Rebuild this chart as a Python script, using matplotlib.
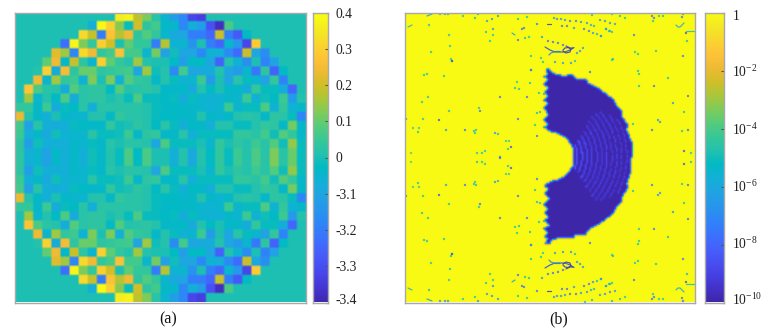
import numpy as np
import matplotlib
matplotlib.use("Agg")
import matplotlib.pyplot as plt
from matplotlib.colors import LinearSegmentedColormap, Normalize
from matplotlib.path import Path
from matplotlib.transforms import ScaledTranslation

plt.rcParams['font.family'] = ['Liberation Serif', 'DejaVu Serif']
plt.rcParams['mathtext.fontset'] = 'custom'
plt.rcParams['mathtext.rm'] = 'Liberation Serif'

# ---------- panel (a): upper half of the cell matrix, in tenths of the colour axis
upper_rows = [
 [0]*11+[3.6,3.7,1.8,1.2,0.2,-0.5,-1.2,-1.8,-3.2,-3.4]+[0]*11,
 [0]*8+[-0.7,4,3,1.3,-0.2,2,0.3,0.6,-0.4,-0.4,-1.8,-0.7,-1.2,-3,-3.8,0.7]+[0]*8,
 [0]*7+[3.2,1.9,-2,2.7,1.7,2.4,0.3,0.8,0.4,-0.5,-0.9,-1,-2,-2,-2.5,1.9,-2,-2.8,-0.3]+[0]*6,
 [0]*5+[-2.3,3.8,1.2,0.4,3,2,0,0.9,0.4,0.4,-2,1.7,-0.6,-0.5,-1.5,0,-2,-2.5,-0.5,-1.4,-3.2,2.9]+[0]*5,
 [0]*4+[2.2,1.5,-1.8,3.2,2.4,0.4,0.6,2.7,0.6,0.6,-0.5,1.1,-1.1,-0.1,-1,-1,-1.8,-0.6,-0.7,-1.7,-2.4,1.9,-1,-1.6]+[0]*4,
 [0]*3+[0.9,2.4,-0.4,1.9,0.3,-0.5,3,0.9,0.4,0.1,1.5,0.1,0,0,-0.3,-1.2,-0.3,-0.3,-1,-2.6,0.1,-0.6,-1.6,0,-1.9,-1.1]+[0]*3,
 [0]*2+[0.1,3,-0.8,2.5,0.3,1,1,0.3,0.4,0.5,0.6,-1,1.5,-0.1,0.1,-1.7,0.6,-1,-0.9,-0.8,0.1,-1,-1.3,-0.5,-2.1,0.3,-2.6,-0.3]+[0]*2,
 [0]*2+[2.4,-0.5,1.5,0.4,0.5,-0.6,1.2,0,1.2,-0.7,0.8,0.4,0.3,-0.4,0.1,-0.2,-0.6,-0.5,0.5,-1.3,0,-1,0.2,-0.2,-0.5,-1.1,0.4,-1.9]+[0]*2,
 [0,2.8,0.7,0.2,0.1,-0.8,0.8,0.2,0.3,0.3,-0.3,0.8,0.1,0.2,0.3,0.1,-0.4,-0.4,-0.3,-0.9,0.1,-0.3,0,-0.4,-0.4,-0.8,0.4,-0.2,-0.2,-0.8,-2.5,0],
 [0,1.5,-0.5,0.1,-0.3,0.7,-0.8,0.2,0.3,0.3,0,0.2,-0.2,0.7,-0.2,-0.2,-0.3,-0.2,-0.8,-0.2,-0.5,-0.6,-0.6,-0.4,-0.5,0.5,-0.6,-0.1,-0.3,0.5,-1.3,0.1],
 [.4,.4,-.4,.5,-.8,-.2,-.3,.2,-.7,.2,.2,.2,.2,.2,.1,-.2,-.4,-.3,-.4,-.4,-.5,-.6,-.5,.5,-.5,-.2,-.2,.7,-.6,.4,-.6,-.4],
 [2.3,.1,-.4,-.7,0,-.4,-.5,-.5,.1,.1,-.4,.4,.2,.2,.1,-.2,-.3,-.3,-.4,-.4,.1,-.4,-.5,-.4,.1,.2,.1,-.4,.3,.2,-.2,-1.8],
 [.6,-1.1,.2,-.7,-.8,-.7,-.2,-.3,-.4,-.4,.4,-.1,0,.3,.1,-.3,.2,-.2,-.7,-.3,-.4,-.7,.1,.1,-.2,-.2,.1,.4,.3,-.4,1.1,-.4],
 [.5,-.7,-.4,-.9,-.1,-.6,-.5,-.5,.2,-.2,-.2,-.1,.5,-.4,.3,.4,-.4,-.4,.2,-.7,-.2,-.2,-.2,-.2,.4,.4,.2,.6,-.1,.8,.4,-.4],
 [.3,-1.2,-.1,-.7,-.7,-.7,-.4,-.5,-.2,-.4,.2,0,.2,.2,.1,-1.0,.7,-.2,-.2,-.2,0,-.5,.4,0,.3,.1,.5,.2,.8,-.1,1.4,-.2],
 [.3,-.7,-.5,-1.1,-.4,-.7,-.4,-.7,-.1,-.4,.1,-.2,.7,-.3,.7,0,0,-.7,.1,-.9,.1,-.3,.4,-.2,.5,.1,.7,.2,1.2,.2,1,-.2],
]
ticks_a = [0.4, 0.3, 0.2, 0.1, 0, -0.1, -0.2, -0.3, -0.4]
labels_a = ['0.4', '0.3', '0.2', '0.1', '0', '-3.1', '-3.2', '-3.3', '-3.4']

# ---------- panel (b): upper half of the dark region, in reference pixels
outline_x = [545,550,553,563,574,577,587,590,600,615,617,624,623,630,628,633,633,
             574,573,568,560,550,544,549,544,549,544,549,544,549,544,549,544,549,544,549,544,549]
outline_y = [70,69,73,76,75,79,79,84,89,100,105,112,116,127,130,143,158.5,
             158.5,148,140,135,132,128,125,120,115,109,104,101,96,93,88,85,80,77,74,71,73]
ripple_r = [30,35,40,45,50,55,60,65,70,75,80]
ripple_span = [24,28,32,34,38,40,42,42,40,34,28]
ripple_level = [-8.0,-8.3,-8.5,-8.8,-8.8,-9.0,-8.8,-9.0,-8.8,-9.0,-8.8]
speck_x = [424,427,444,452,422,428,449,479,480,500,527,517,515,519,530,531,539,544,406,423,439,413,419,418,446,465,476,474,475,518,537,540,535,537,495,498,506,509,511,508,485,482,477,500,411,
 620,625,652,654,653,659,663,683,682,606,609,612,601,634,686,687,656,683,635,638,613,612,638,639,668,639,654,688,673,684,658,660,652,633,682,688,684,691,
 440,445,448,463,475,478,487,492,498,518,527,429,537,554,557,561,565,570,576,581,587,591,594,600,605,610,615,585,592,612,584,589,593,597,601,606,610,562,567,574,522,524,486,493,493,449,525,529,518,490,450,431,451,452,531,531,590,
 542,548,553,558,563,541,543,555,563,571,575,577,580,583]
speck_y = [75,74,76,61,102,97,111,108,111,97,97,82,88,89,83,70,93,94,119,119,120,128,128,132,130,130,130,131,133,119,113,112,125,136,133,134,141,141,147,149,151,153,153,157,153,
 16,18,16,18,21,16,16,14,17,29,31,32,36,35,33,41,51,56,52,54,59,60,71,74,78,86,86,96,103,112,120,122,130,124,131,130,151,153,
 14,14,14,16,18,14,21,19,16,19,17,25,24,18,19,19,20,21,21,22,23,25,26,20,21,23,24,13,15,14,29,31,33,34,36,29,31,26,26,28,29,28,32,29,35,35,38,37,40,41,46,52,59,61,56,70,72,
 37,41,42,43,45,58,62,62,63,63,61,53,51,48]
speck_level = [-5,-5,-5,-5,-5,-5,-5,-5,-8,-8,-8,-5,-5,-5,-5,-5,-5,-5,-8,-5,-9,-4.5,-4.5,-5,-7,-8,-5,-5,-5,-8,-6,-5,-5,-8,-7,-6,-4.5,-4.5,-9,-5,-5,-5,-5,-8,-4,
 -5,-5,-8,-8,-5,-5,-5,-8,-8,-8,-5,-5,-8,-8,-9,-6,-5,-8,-5,-5,-5,-5,-5,-5,-5,-5,-8,-8,-7,-5,-7,-7,-8,-5,-5,-8,-9,-5,
 -7,-7,-7,-5,-5,-7,-7,-7,-7,-5,-5,-5,-8,-7,-7,-7,-7,-8,-8,-7,-7,-6,-6,-7,-7,-7,-7,-6,-6,-6,-8,-8,-7,-6,-6,-6,-6,-8,-8,-7,-8,-8,-5,-7,-5,-5,-5,-5,-8,-5,-5,-5,-5,-9,-5,-8,-8,
 -7,-8,-8,-8,-8,-5,-5,-7,-7,-7,-5,-7,-7,-7]
# curve fragments near the border and around the two knots (upper half)
curve_x = [[427,432],[408,412],[547,551],[686,695],[676,678,680,684],[512,515],
           [545,550,555,560,565,570,574],[549,551,555,560],[563,565,568,571,570,566,563],[566,570,573]]
curve_y = [[16,14],[27,25],[24,24],[31,31],[25,27,27,23],[33,35],
           [47,50,52,52,52,50,47.5],[55,53,51.5,51.5],[50,48,47.5,49,52,53,51],[46,48,48]]
curve_colour = ['#1f9fd8','#22b8b0','#3d3fb0','#22b8c8','#22a8d8','#1fa0d8',
                '#2a50e0','#2a80e0','#3a3ac0','#3a3ac0']
ticks_b = [0, -2, -4, -6, -8, -10]
labels_b = ['1', r'$\mathregular{10^{-2}}$', r'$\mathregular{10^{-4}}$', r'$\mathregular{10^{-6}}$',
            r'$\mathregular{10^{-8}}$', r'$\mathregular{10^{-10}}$']
captions = ['(a)', '(b)']

# ---------- colour map
anchors = [(0.2422,0.1504,0.6603),(0.2647,0.1978,0.7952),(0.2783,0.2559,0.8991),(0.2810,0.3228,0.9579),
 (0.2699,0.3892,0.9906),(0.2206,0.4603,0.9973),(0.1786,0.5289,0.9682),(0.1540,0.5902,0.9218),
 (0.1248,0.6459,0.8883),(0.0689,0.6948,0.8394),(0.0067,0.7312,0.7660),(0.1408,0.7584,0.6842),
 (0.2161,0.7843,0.5923),(0.3406,0.8008,0.4789),(0.5044,0.7993,0.3480),(0.6720,0.7793,0.2227),
 (0.8203,0.7498,0.1535),(0.9393,0.7288,0.2100),(0.9970,0.7659,0.2199),(0.9786,0.8394,0.1778),
 (0.9597,0.9135,0.1423),(0.9769,0.9839,0.0805)]
parula = LinearSegmentedColormap.from_list('parula_like', anchors, N=256)

W, H = 770, 331
fig = plt.figure(figsize=(W/100, H/100), dpi=100)
def px_axes(x0, y0, x1, y1):
    return fig.add_axes([x0/W, 1-y1/H, (x1-x0)/W, (y1-y0)/H])
FRAME = '#a8a8a8'

def style_frame(ax):
    for s in ax.spines.values():
        s.set_color(FRAME)
        s.set_linewidth(1.0)

def nudge(label, dy_px):
    label.set_transform(label.get_transform() + ScaledTranslation(0, -dy_px/100, fig.dpi_scale_trans))

# ---------- panel (a)
ax_a = px_axes(14.5, 12.5, 305.5, 302.5)
matrix = np.array(upper_rows + upper_rows[::-1], dtype=float) / 10.0
norm_a = Normalize(-0.41, 0.39)
ax_a.imshow(np.kron(matrix, np.ones((4, 4))), cmap=parula, norm=norm_a, aspect='auto',
            interpolation='bilinear', interpolation_stage='rgba')
ax_a.set_xticks([]); ax_a.set_yticks([])
style_frame(ax_a)

cax_a = px_axes(313, 12.5, 328, 302.5)
grad = np.linspace(0.4, -0.4, 256)[:, None]
cax_a.imshow(grad, cmap=parula, norm=norm_a, aspect='auto', extent=[0, 1, -0.4, 0.4])
cax_a.set_xticks([])
cax_a.yaxis.tick_right()
cax_a.set_yticks(ticks_a, labels_a)
cax_a.tick_params(axis='y', direction='in', length=2, width=0.8, color='#555533',
                  labelsize=9.8, pad=5.5, labelcolor='#222222')
style_frame(cax_a)

# ---------- panel (b)
xlim = (405, 695); ylim = (302.5, 12.5)
step = 1.5
gx = np.arange(xlim[0], xlim[1] + step, step)
gy = np.arange(ylim[1], ylim[0] + step, step)
XX, YY = np.meshgrid(gx, gy)
MID = 157.5
ox = np.array(outline_x, float); oy = np.array(outline_y, float)
pts = np.column_stack([XX.ravel(), YY.ravel()])
upper = Path(np.column_stack([ox, oy])).contains_points(pts)
lower = Path(np.column_stack([ox, 2*MID - oy])).contains_points(pts)
inside = (upper | lower).reshape(XX.shape)
field = np.zeros_like(XX)
field[inside] = -10.0
cx = 548.0
for r, span, lev in zip(ripple_r, ripple_span, ripple_level):
    for a in np.arange(-span, span + 1, 1.5):
        xp = cx + r*np.cos(np.radians(a)); yp = MID + r*np.sin(np.radians(a))
        i = int(round((yp - gy[0])/step)); j = int(round((xp - gx[0])/step))
        if inside[i, j]:
            field[i, j] = lev
# slight softening of the region edge, as in the blurred reference
kernel = np.array([1, 6, 1])/8
field = np.apply_along_axis(lambda v: np.convolve(v, kernel, mode='same'), 0, field)
field = np.apply_along_axis(lambda v: np.convolve(v, kernel, mode='same'), 1, field)
field[0, :] = field[1, :]; field[-1, :] = field[-2, :]
field[:, 0] = field[:, 1]; field[:, -1] = field[:, -2]

ax_b = px_axes(405, 12.5, 695, 302.5)
norm_b = Normalize(-10, 0)
ax_b.imshow(field, cmap=parula, norm=norm_b, aspect='auto', interpolation='bilinear',
            interpolation_stage='data', extent=[xlim[0], xlim[1], ylim[0], ylim[1]])
sx = np.array(speck_x, float); sy = np.array(speck_y, float); sl = np.array(speck_level, float)
ax_b.scatter(np.r_[sx, sx], np.r_[sy, 2*MID - sy], c=np.r_[sl, sl], cmap=parula, norm=norm_b,
             s=3.0, linewidths=0, alpha=0.75)
for cxs, cys, col in zip(curve_x, curve_y, curve_colour):
    ax_b.plot(cxs, cys, color=col, lw=0.9, alpha=0.85, solid_capstyle='round')
    ax_b.plot(cxs, [2*MID - v for v in cys], color=col, lw=0.9, alpha=0.85, solid_capstyle='round')
ax_b.set_xlim(*xlim); ax_b.set_ylim(*ylim)
ax_b.set_xticks([]); ax_b.set_yticks([])
style_frame(ax_b)

cax_b = px_axes(705, 12.5, 724, 302.5)
grad_b = np.linspace(0, -10, 256)[:, None]
cax_b.imshow(grad_b, cmap=parula, norm=norm_b, aspect='auto', extent=[0, 1, -10, 0])
cax_b.set_xticks([])
cax_b.yaxis.tick_right()
cax_b.set_yticks(ticks_b, labels_b)
cax_b.tick_params(axis='y', direction='in', length=2, width=0.8, color='#555533',
                  labelsize=9.8, pad=6, labelcolor='#222222')
style_frame(cax_b)
fig.canvas.draw()
nudge(cax_a.get_yticklabels()[-1], -3)
for lab, dy in zip(cax_b.get_yticklabels(), [2.5, 0, 0, -1, -2, -4]):
    nudge(lab, dy)

fig.text(168/W, 1-319/H, captions[0], ha='center', va='center', fontsize=11.5, color='#111111')
fig.text(559/W, 1-319/H, captions[1], ha='center', va='center', fontsize=11.5, color='#111111')

fig.savefig('out.png', dpi=100)
print(len(speck_x), len(speck_y), len(speck_level), matrix.shape)
